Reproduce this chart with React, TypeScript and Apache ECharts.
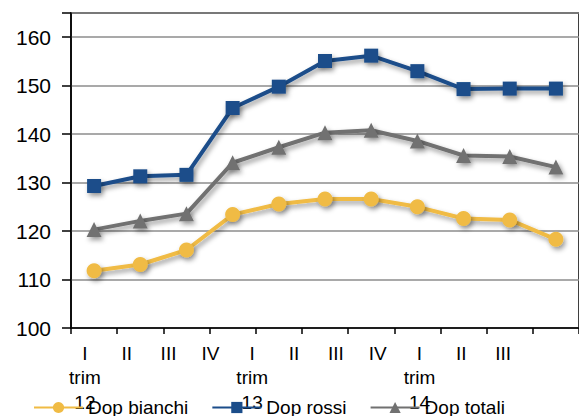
import React, { useEffect, useRef } from "react";
import * as echarts from "echarts";

const categories = ["I\ntrim\n12", "II", "III", "IV", "I\ntrim\n13", "II", "III", "IV", "I\ntrim\n14", "II", "III"];
const dopBianchi = [111.8, 113.1, 116.1, 123.4, 125.6, 126.6, 126.6, 125.0, 122.6, 122.3, 118.3];
const dopRossi = [129.3, 131.3, 131.6, 145.4, 149.8, 155.1, 156.2, 153.0, 149.3, 149.4, 149.4];
const dopTotali = [120.3, 122.1, 123.6, 134.1, 137.3, 140.3, 140.8, 138.6, 135.6, 135.4, 133.2];
const seriesNames = ["Dop bianchi", "Dop rossi", "Dop totali"];
const yTicks = [100, 110, 120, 130, 140, 150, 160];

export default function App() {
  const ref = useRef<HTMLDivElement>(null);
  useEffect(() => {
    if (!ref.current) return;
    const chart = echarts.init(ref.current, null, { renderer: "svg" });
    const font = "Liberation Sans, Arial, sans-serif";
    const shadow = {
      shadowColor: "rgba(0,0,0,0.4)",
      shadowBlur: 5,
      shadowOffsetX: 2,
      shadowOffsetY: 3,
    };
    const mk = (name: string, data: number[], color: string, symbol: string, size: number) => ({
      name,
      type: "line",
      xAxisIndex: 0,
      yAxisIndex: 0,
      data,
      symbol,
      symbolSize: size,
      showSymbol: true,
      lineStyle: { color, width: 4, ...shadow },
      itemStyle: { color, ...shadow },
      z: 3,
    });
    chart.setOption({
      animation: false,
      backgroundColor: "#fff",
      textStyle: { fontFamily: font },
      grid: [
        { left: 71, top: 13, right: -2, bottom: 88, show: true, borderColor: "#000", borderWidth: 1.5, backgroundColor: "transparent" },
        { left: 64, top: 13, width: 460, bottom: 88, show: false },
      ],
      legend: {
        data: seriesNames,
        left: 28,
        top: 393,
        itemWidth: 49,
        itemHeight: 14,
        itemGap: 23,
        textStyle: { fontSize: 19, color: "#000", fontFamily: font },
      },
      xAxis: [
        {
          type: "category",
          gridIndex: 0,
          data: categories,
          boundaryGap: true,
          axisLine: { show: true, lineStyle: { color: "#000", width: 1.5 } },
          axisTick: { show: true, length: 6, lineStyle: { color: "#000", width: 1.5 } },
          axisLabel: { show: false },
          splitLine: { show: false },
        },
        {
          type: "category",
          gridIndex: 1,
          data: categories,
          boundaryGap: true,
          axisLine: { show: false },
          axisTick: { show: false },
          axisLabel: {
            show: true,
            interval: 0,
            margin: 13,
            fontSize: 19,
            lineHeight: 24.5,
            color: "#000",
            fontFamily: font,
          },
          splitLine: { show: false },
        },
      ],
      yAxis: [
        {
          type: "value",
          gridIndex: 0,
          min: 100,
          max: 165,
          interval: 10,
          axisLine: { show: true, lineStyle: { color: "#000", width: 1.5 } },
          axisTick: { show: true, length: 9, lineStyle: { color: "#000", width: 1.5 } },
          axisLabel: {
            fontSize: 21,
            color: "#000",
            margin: 20,
            fontFamily: font,
            formatter: (v: number) => (yTicks.includes(v) ? String(v) : ""),
          },
          splitLine: { show: true, lineStyle: { color: "#8c8c8c", width: 1.5 } },
        },
        {
          type: "value",
          gridIndex: 1,
          min: 100,
          max: 165,
          show: false,
        },
      ],
      series: [
        mk(seriesNames[0], dopBianchi, "#F0BB44", "circle", 15),
        mk(seriesNames[1], dopRossi, "#1B4D8A", "rect", 14),
        mk(seriesNames[2], dopTotali, "#717171", "triangle", 15),
      ],
    });
    return () => chart.dispose();
  }, []);
  return <div ref={ref} style={{ width: 579, height: 416, position: "absolute", left: 0, top: 0 }} />;
}
